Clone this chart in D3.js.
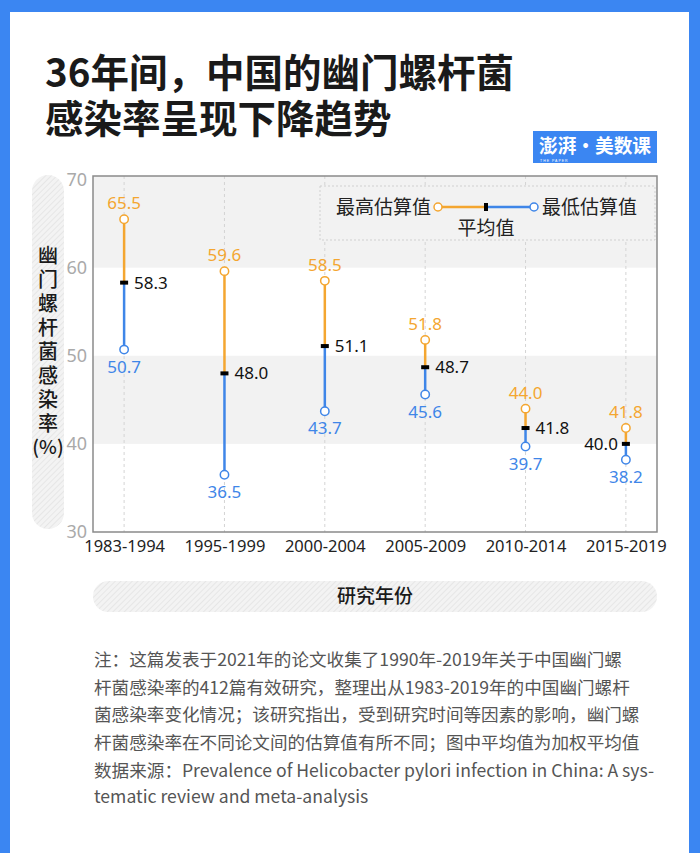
<!DOCTYPE html>
<html><head><meta charset="utf-8">
<script src="https://cdn.jsdelivr.net/npm/d3@7"></script>
<style>html,body{margin:0;padding:0;background:#3b86f2;}svg{display:block;}#chart{position:relative;width:700px;height:853px;}</style>
</head><body>
<div id="chart"></div>
<script>
const categories = ["1983-1994","1995-1999","2000-2004","2005-2009","2010-2014","2015-2019"];
const highValues = [65.5, 59.6, 58.5, 51.8, 44.0, 41.8];
const meanValues = [58.3, 48.0, 51.1, 48.7, 41.8, 40.0];
const lowValues  = [50.7, 36.5, 43.7, 45.6, 39.7, 38.2];
const yTicks = [30, 40, 50, 60, 70];
const titleLines = ["36年间，中国的幽门螺杆菌", "感染率呈现下降趋势"];
const yTitleMain = "幽门螺杆菌感染率";
const yTitleUnit = "(%)";
const xTitle = "研究年份";
const noteLines = [
  "注：这篇发表于2021年的论文收集了1990年-2019年关于中国幽门螺",
  "杆菌感染率的412篇有效研究，整理出从1983-2019年的中国幽门螺杆",
  "菌感染率变化情况；该研究指出，受到研究时间等因素的影响，幽门螺",
  "杆菌感染率在不同论文间的估算值有所不同；图中平均值为加权平均值"
];
const sourceLines = [
  "数据来源：Prevalence of Helicobacter pylori infection in China: A sys-",
  "tematic review and meta-analysis"
];

const W = 700, H = 853;
const ORANGE = "#f4a630", BLUE = "#3f86e8", CJK = "'Noto Sans CJK SC','Noto Sans',sans-serif";
const svg = d3.select("#chart").append("svg").attr("width", W).attr("height", H);
const defs = svg.append("defs");
const pat = defs.append("pattern").attr("id","hatch").attr("patternUnits","userSpaceOnUse")
  .attr("width",4).attr("height",4).attr("patternTransform","rotate(45)");
pat.append("rect").attr("width",4).attr("height",4).attr("fill","#f3f3f3");
pat.append("line").attr("x1",0).attr("y1",0).attr("x2",0).attr("y2",4).attr("stroke","#e3e3e3").attr("stroke-width",1.6);

svg.append("rect").attr("x",0).attr("y",0).attr("width",W).attr("height",H).attr("fill","#3b86f2");
svg.append("rect").attr("x",10).attr("y",12).attr("width",679).attr("height",H-12).attr("fill","#fff");

// title
svg.append("g").selectAll("text").data(titleLines).join("text")
  .attr("x",45).attr("y",(d,i)=>87+i*46)
  .attr("font-family",CJK).attr("font-weight",700).attr("font-size",38.5).attr("fill","#1a1a1a").text(d=>d);

// logo
svg.append("rect").attr("x",533).attr("y",131).attr("width",124).attr("height",32).attr("fill","#3b86f2");
svg.append("text").attr("x",539).attr("y",153)
  .attr("textLength",112).attr("lengthAdjust","spacingAndGlyphs")
  .attr("font-family",CJK).attr("font-weight",700).attr("font-size",19).attr("fill","#fff").text("澎湃·美数课");
svg.append("text").attr("x",540).attr("y",161.5)
  .attr("font-family","sans-serif").attr("font-size",3.5).attr("fill","#fff").attr("letter-spacing",1).text("THE PAPER");

// scales
const L = 93, R = 657, T = 176, B = 532;
const x = d3.scalePoint().domain(categories).range([L, R]).padding(0.31);
const y = d3.scaleLinear().domain([30, 70.4]).range([B, T]);

// bands
const bands = [[60,70.4],[40,50]];
svg.append("g").selectAll("rect").data(bands).join("rect")
  .attr("x",L).attr("width",R-L).attr("y",d=>y(d[1])).attr("height",d=>y(d[0])-y(d[1])).attr("fill","#f2f2f2");

// vertical dashed gridlines
svg.append("g").selectAll("line").data(categories).join("line")
  .attr("x1",d=>x(d)).attr("x2",d=>x(d)).attr("y1",T).attr("y2",B)
  .attr("stroke","#d4d4d4").attr("stroke-width",1).attr("stroke-dasharray","3,3");

// frame
svg.append("rect").attr("x",L).attr("y",T).attr("width",R-L).attr("height",B-T)
  .attr("fill","none").attr("stroke","#8a8a8a").attr("stroke-width",1.5);

// y axis
const yAxis = d3.axisLeft(y).tickValues(yTicks).tickSize(0).tickPadding(6);
const yg = svg.append("g").attr("transform",`translate(${L},0)`).call(yAxis);
yg.select(".domain").remove();
yg.selectAll("text").attr("font-family","'Noto Sans',sans-serif").attr("font-size",18).attr("fill","#aaaaaa");

// x axis
const xAxis = d3.axisBottom(x).tickSize(0).tickPadding(8);
const xg = svg.append("g").attr("transform",`translate(0,${B})`).call(xAxis);
xg.select(".domain").remove();
xg.selectAll("text").attr("font-family","'Noto Sans',sans-serif").attr("font-size",16.5).attr("fill","#222");

// y title pill
svg.append("rect").attr("x",32).attr("y",175).attr("width",32).attr("height",354).attr("rx",16).attr("fill","url(#hatch)");
svg.append("text").attr("x",48).attr("y",245)
  .style("writing-mode","vertical-rl").attr("letter-spacing",4)
  .attr("font-family",CJK).attr("font-weight",500).attr("font-size",20).attr("fill","#1a1a1a").text(yTitleMain);
svg.append("text").attr("x",48).attr("y",454).attr("text-anchor","middle")
  .attr("font-family",CJK).attr("font-weight",500).attr("font-size",19).attr("fill","#1a1a1a").text(yTitleUnit);

// x title pill
svg.append("rect").attr("x",93).attr("y",581).attr("width",564).attr("height",31).attr("rx",15.5).attr("fill","url(#hatch)");
svg.append("text").attr("x",375).attr("y",603).attr("text-anchor","middle")
  .attr("font-family",CJK).attr("font-weight",500).attr("font-size",19).attr("fill","#1a1a1a").text(xTitle);

// dumbbells
const data = categories.map((c,i)=>({c, hi:highValues[i], mean:meanValues[i], lo:lowValues[i], i}));
const g = svg.append("g");
g.selectAll(".hiLine").data(data).join("line")
  .attr("x1",d=>x(d.c)).attr("x2",d=>x(d.c)).attr("y1",d=>y(d.hi)).attr("y2",d=>y(d.mean))
  .attr("stroke",ORANGE).attr("stroke-width",2.5);
g.selectAll(".loLine").data(data).join("line")
  .attr("x1",d=>x(d.c)).attr("x2",d=>x(d.c)).attr("y1",d=>y(d.mean)).attr("y2",d=>y(d.lo))
  .attr("stroke",BLUE).attr("stroke-width",2.5);
g.selectAll(".hiC").data(data).join("circle")
  .attr("cx",d=>x(d.c)).attr("cy",d=>y(d.hi)).attr("r",4.2).attr("fill","#fff").attr("stroke",ORANGE).attr("stroke-width",1.5);
g.selectAll(".loC").data(data).join("circle")
  .attr("cx",d=>x(d.c)).attr("cy",d=>y(d.lo)).attr("r",4.2).attr("fill","#fff").attr("stroke",BLUE).attr("stroke-width",1.5);
g.selectAll(".mk").data(data).join("rect")
  .attr("x",d=>x(d.c)-4).attr("y",d=>y(d.mean)-2).attr("width",8).attr("height",4).attr("fill","#000");

const NUMF = "'Noto Sans',sans-serif";
g.selectAll(".hiT").data(data).join("text")
  .attr("x",d=>x(d.c)).attr("y",d=>y(d.hi)-10).attr("text-anchor","middle")
  .attr("font-family",NUMF).attr("font-size",17).attr("fill",ORANGE).text(d=>d.hi.toFixed(1));
g.selectAll(".loT").data(data).join("text")
  .attr("x",d=>x(d.c)).attr("y",d=>y(d.lo)+23).attr("text-anchor","middle")
  .attr("font-family",NUMF).attr("font-size",17).attr("fill",BLUE).text(d=>d.lo.toFixed(1));
g.selectAll(".mT").data(data).join("text")
  .attr("x",d=>d.i===5 ? x(d.c)-8 : x(d.c)+10).attr("y",d=>y(d.mean)+6)
  .attr("text-anchor",d=>d.i===5?"end":"start")
  .attr("font-family",NUMF).attr("font-size",17).attr("fill","#111").text(d=>d.mean.toFixed(1));

// legend
const lg = svg.append("g");
lg.append("rect").attr("x",320).attr("y",186).attr("width",335).attr("height",54)
  .attr("fill","#f2f2f2").attr("stroke","#d0d0d0").attr("stroke-dasharray","2,2");
lg.append("text").attr("x",431).attr("y",214).attr("text-anchor","end")
  .attr("font-family",CJK).attr("font-size",19).attr("fill","#222").text("最高估算值");
lg.append("line").attr("x1",438).attr("x2",486).attr("y1",207).attr("y2",207).attr("stroke",ORANGE).attr("stroke-width",2.5);
lg.append("line").attr("x1",486).attr("x2",534).attr("y1",207).attr("y2",207).attr("stroke",BLUE).attr("stroke-width",2.5);
lg.append("circle").attr("cx",438).attr("cy",207).attr("r",4).attr("fill","#fff").attr("stroke",ORANGE).attr("stroke-width",1.5);
lg.append("circle").attr("cx",534).attr("cy",207).attr("r",4).attr("fill","#fff").attr("stroke",BLUE).attr("stroke-width",1.5);
lg.append("rect").attr("x",484).attr("y",203).attr("width",4).attr("height",8).attr("fill","#000");
lg.append("text").attr("x",542).attr("y",214)
  .attr("font-family",CJK).attr("font-size",19).attr("fill","#222").text("最低估算值");
lg.append("text").attr("x",486).attr("y",235).attr("text-anchor","middle")
  .attr("font-family",CJK).attr("font-size",19).attr("fill","#222").text("平均值");

// notes
svg.append("g").selectAll("text").data(noteLines).join("text")
  .attr("x",94).attr("y",(d,i)=>666+i*27.5)
  .attr("font-family",CJK).attr("font-size",17.6).attr("fill","#555").text(d=>d);
svg.append("g").selectAll("text").data(sourceLines).join("text")
  .attr("x",94).attr("y",(d,i)=>777+i*26)
  .attr("font-family",CJK).attr("font-size",17.6).attr("fill","#555").text(d=>d);
</script>
</body></html>
